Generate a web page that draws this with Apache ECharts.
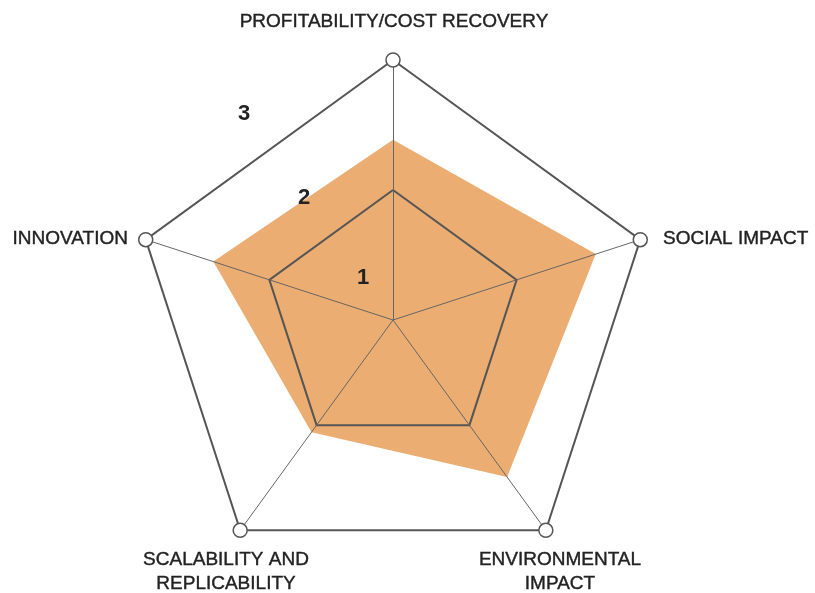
<!DOCTYPE html>
<html>
<head>
<meta charset="utf-8">
<script src="https://cdn.jsdelivr.net/npm/echarts@6/dist/echarts.min.js"></script>
<style>
  html, body { margin: 0; padding: 0; background: #fff; }
  #chart { width: 815px; height: 593px; }
</style>
</head>
<body>
<div id="chart"></div>
<script>
// indicators go counter-clockwise from the top
var indicators = ['PROFITABILITY/COST RECOVERY', 'INNOVATION', 'SCALABILITY AND\nREPLICABILITY', 'ENVIRONMENTAL\nIMPACT', 'SOCIAL IMPACT'];
var scores = [2.08, 2.18, 1.6, 2.24, 2.46];
var maxScore = 3;
var ringLabels = ['1', '2', '3'];

var chart = echarts.init(document.getElementById('chart'));

var nameStyle = {
  fontFamily: 'Liberation Sans', fontSize: 19, fill: '#222', lineHeight: 24,
  stroke: '#222', lineWidth: 0.4, verticalAlign: 'middle'
};
var numStyle = { fontFamily: 'Liberation Sans', fontSize: 22, fontWeight: 'bold', fill: '#222', verticalAlign: 'middle', align: 'center' };

function label(text, x, y, align, st) {
  return { type: 'text', x: x, y: y, z: 10, style: Object.assign({ text: text, align: align }, st) };
}

chart.setOption({
  animation: false,
  radar: {
    z: 2,
    center: [393, 320],
    radius: 260,
    startAngle: 90,
    splitNumber: 2,
    shape: 'polygon',
    indicator: indicators.map(function (n) { return { name: n, min: 0, max: maxScore }; }),
    axisName: { show: false },
    axisLine: { lineStyle: { color: '#666', width: 1 } },
    splitLine: { lineStyle: { color: '#555', width: 2 } },
    splitArea: { show: false },
    axisTick: { show: false },
    axisLabel: { show: false }
  },
  series: [{
    type: 'radar',
    z: 1,
    symbol: 'none',
    lineStyle: { width: 0 },
    areaStyle: { color: '#EBAD72', opacity: 1 },
    data: [{ value: scores }]
  }, {
    type: 'radar',
    z: 5,
    symbol: 'circle',
    symbolSize: 14,
    lineStyle: { width: 0 },
    itemStyle: { color: '#fff', borderColor: '#555', borderWidth: 1.5 },
    data: [{ value: indicators.map(function () { return maxScore; }) }]
  }],
  graphic: [
    label(indicators[0], 394, 21.5, 'center', nameStyle),
    label(indicators[1], 128, 239, 'right', nameStyle),
    label(indicators[2], 226, 572, 'center', nameStyle),
    label(indicators[3], 560, 572, 'center', nameStyle),
    label(indicators[4], 663, 239, 'left', nameStyle),
    label(ringLabels[0], 363, 278, 'center', numStyle),
    label(ringLabels[1], 304, 198, 'center', numStyle),
    label(ringLabels[2], 244, 114, 'center', numStyle)
  ]
});
</script>
</body>
</html>
